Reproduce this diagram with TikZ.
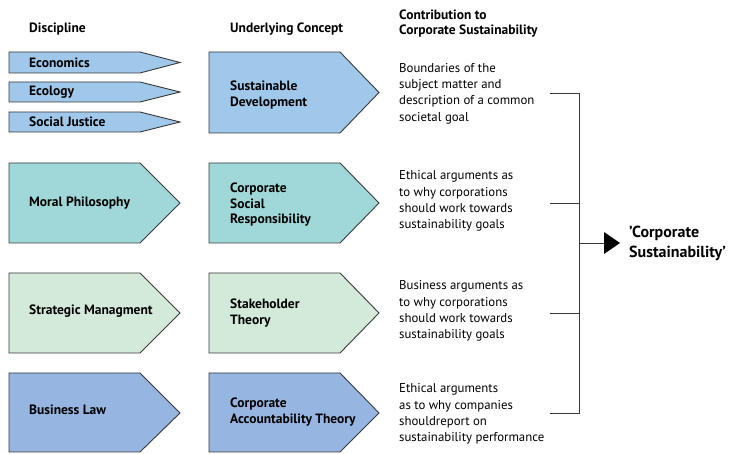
\documentclass[tikz,border=0pt]{standalone}
\usepackage{fontspec}
\setmainfont{PT Sans}
\definecolor{sdblue}{HTML}{A0C8EA}
\definecolor{csrteal}{HTML}{A0D7D8}
\definecolor{stgreen}{HTML}{D3EADB}
\definecolor{catblue}{HTML}{96B5E0}
\definecolor{edge}{HTML}{3A3A3A}
\tikzset{
  pent/.style={draw=edge, line width=0.9pt, line join=miter},
  head/.style={font=\bfseries\fontsize{13.5}{15}\selectfont, anchor=west, align=left, inner sep=0pt},
  lab/.style={font=\bfseries\fontsize{13.5}{15.5}\selectfont, anchor=west, align=left, inner sep=0pt},
  contrib/.style={font=\fontsize{12.8}{16.3}\selectfont, anchor=west, align=left, inner sep=0pt},
  brack/.style={draw=edge, line width=0.9pt},
}
\begin{document}
\begin{tikzpicture}[x=1pt,y=-1pt]
\useasboundingbox[fill=white] (0,0) rectangle (729,454);

% column heads
\node[head] (hdisc) at (29,29) {Discipline};
\node[head] (hconc) at (230,29) {Underlying Concept};
\node[head] (hcont) at (399,24) {Contribution to\\Corporate Sustainability};

% row 1
\draw[pent,fill=sdblue] (9,52) -- (140,52) -- (180,62.5) -- (140,73) -- (9,73) -- cycle;
\draw[pent,fill=sdblue] (9,82) -- (140,82) -- (180,92) -- (140,102) -- (9,102) -- cycle;
\draw[pent,fill=sdblue] (9,112) -- (140,112) -- (180,122) -- (140,132) -- (9,132) -- cycle;
\draw[pent,fill=sdblue] (209,52) -- (340,52) -- (379,92.5) -- (340,133) -- (209,133) -- cycle;
\node[lab] (econ) at (29,62.5) {Economics};
\node[lab] (ecol) at (29,92) {Ecology};
\node[lab] (socj) at (29,122) {Social Justice};
\node[lab] (sdev) at (230,95) {Sustainable\\Development};
\node[contrib] (c1) at (399,93.5) {Boundaries of the\\subject matter and\\description of a common\\societal goal};

% row 2
\draw[pent,fill=csrteal] (9,163) -- (140,163) -- (180,203) -- (140,243) -- (9,243) -- cycle;
\draw[pent,fill=csrteal] (209,163) -- (340,163) -- (379,203) -- (340,243) -- (209,243) -- cycle;
\node[lab] (moral) at (29,203) {Moral Philosophy};
\node[lab] (csr) at (230,205) {Corporate\\Social\\Responsibility};
\node[contrib] (c2) at (399,201) {Ethical arguments as\\to why corporations\\should work towards\\sustainability goals};

% row 3
\draw[pent,fill=stgreen] (9,273) -- (140,273) -- (180,313) -- (140,353) -- (9,353) -- cycle;
\draw[pent,fill=stgreen] (209,273) -- (340,273) -- (379,313) -- (340,353) -- (209,353) -- cycle;
\node[lab] (strat) at (29,311) {Strategic Managment};
\node[lab] (stake) at (230,313) {Stakeholder\\Theory};
\node[contrib] (c3) at (399,311) {Business arguments as\\to why corporations\\should work towards\\sustainability goals};

% row 4
\draw[pent,fill=catblue] (9,373) -- (140,373) -- (180,413) -- (140,452) -- (9,452) -- cycle;
\draw[pent,fill=catblue] (209,373) -- (340,373) -- (379,413) -- (340,452) -- (209,452) -- cycle;
\node[lab] (blaw) at (29,410) {Business Law};
\node[lab] (cat) at (230,412) {Corporate\\Accountability Theory};
\node[contrib] (c4) at (399,414) {Ethical arguments\\as to why companies\\shouldreport on\\sustainability performance};

% bracket
\coordinate (b1) at (550,93);
\coordinate (b2) at (550,203);
\coordinate (b3) at (550,313);
\coordinate (b4) at (550,413);
\coordinate (j1) at (579,93);
\coordinate (j4) at (579,413);
\coordinate (jm) at (579,243);
\node[font=\bfseries\fontsize{16}{20}\selectfont, anchor=west, align=left, inner sep=0pt] (cs) at (629,243) {'Corporate\\Sustainability'};
\draw[brack] (b1) -- (j1) -- (j4) -- (b4);
\draw[brack] (b2) -- (b2 -| j1);
\draw[brack] (b3) -- (b3 -| j1);
\draw[brack] (jm) -- (606,243);
\fill[black] (604,232) -- (620,243) -- (604,254) -- cycle;
\end{tikzpicture}
\end{document}
